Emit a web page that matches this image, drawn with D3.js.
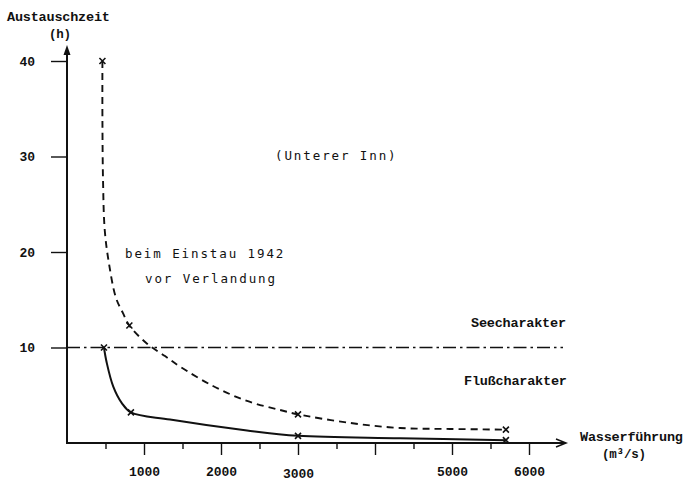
<!DOCTYPE html>
<html>
<head>
<meta charset="utf-8">
<script src="https://cdn.jsdelivr.net/npm/d3@7"></script>
<style>
  html, body { margin: 0; padding: 0; background: #fff; }
  svg { display: block; }
  .lbl { font-family: "Liberation Mono", "DejaVu Sans Mono", monospace; font-weight: bold; font-size: 13.5px; letter-spacing: -0.2px; fill: #111; }
  .sm { font-size: 12.5px; }
  .typ { font-family: "DejaVu Sans Mono", monospace; font-size: 12.5px; letter-spacing: 1.9px; fill: #111; }
  .tick text { font-family: "Liberation Mono", "DejaVu Sans Mono", monospace; font-weight: bold; font-size: 13px; fill: #111; }
</style>
</head>
<body>
<svg id="chart" width="686" height="482"></svg>
<script>
// Wasserführung (m³/s) and Austauschzeit (h) along each curve
const einstauFlow  = [460, 460, 468, 490, 545, 636, 727, 810, 1040, 1273, 1468, 1896, 2338, 2766, 3000, 3675, 4325, 4974, 5700];
const einstauHours = [40, 34, 27.5, 22.3, 18.8, 15.2, 13.6, 12.3, 10.4, 9.1, 8.0, 5.97, 4.4, 3.46, 3.0, 2.1, 1.57, 1.47, 1.4];
const einstauMarkFlow  = [460, 810, 3000, 5700];
const einstauMarkHours = [40, 12.3, 3.0, 1.4];

const heuteFlow  = [480, 516, 601, 710, 830, 1338, 2338, 3000, 4325, 5700];
const heuteHours = [10, 8.4, 5.9, 4.2, 3.2, 2.46, 1.31, 0.75, 0.5, 0.3];
const heuteMarkFlow  = [480, 830, 3000, 5700];
const heuteMarkHours = [10, 3.2, 0.75, 0.3];

// Grenze zwischen See- und Flußcharakter
const grenzeHours = 10;

const flowMajorTicks = [1000, 2000, 3000, 4000, 5000, 6000];
const flowMinorTicks = [500, 1500, 2500, 3500, 4500, 5500];
const flowTickLabels = ["1000", "2000", "3000", "", "5000", "6000"];
const hourTicks = [10, 20, 30, 40];

const svg = d3.select("#chart");

const x = d3.scaleLinear().domain([0, 6000]).range([67, 529]);
const y = d3.scaleLinear().domain([0, 40]).range([443, 61]);
const x0 = x(0), y0 = y(0);
const xEnd = 566, yTop = 45;

// x axis: long ticks at thousands, short ticks in between
const gxMinor = svg.append("g").attr("transform", `translate(0,${y0})`)
  .call(d3.axisBottom(x).tickValues(flowMinorTicks).tickSize(6).tickSizeOuter(0).tickFormat(""));
const gxMajor = svg.append("g").attr("transform", `translate(0,${y0})`)
  .call(d3.axisBottom(x).tickValues(flowMajorTicks).tickSize(12).tickSizeOuter(0)
    .tickFormat((d, i) => flowTickLabels[i]).tickPadding(11));
[gxMinor, gxMajor].forEach(g => {
  g.select(".domain").remove();
  g.selectAll(".tick line").attr("stroke", "#111").attr("stroke-width", 1.4);
});
gxMajor.selectAll(".tick text")
  .attr("dy", (d) => d === 3000 ? "0.9em" : "0.75em");

// y axis
const gy = svg.append("g").attr("transform", `translate(${x0},0)`)
  .call(d3.axisLeft(y).tickValues(hourTicks).tickSize(16).tickSizeOuter(0).tickPadding(16));
gy.select(".domain").remove();
gy.selectAll(".tick line").attr("stroke", "#111").attr("stroke-width", 1.4);

// axis lines with arrowheads
svg.append("line").attr("x1", x0).attr("y1", y0 + 1).attr("x2", x0).attr("y2", yTop + 4)
  .attr("stroke", "#111").attr("stroke-width", 2);
svg.append("path")
  .attr("d", `M${x0},${yTop} L${x0 - 3.5},${yTop + 10} L${x0 + 3.5},${yTop + 10} Z`)
  .attr("fill", "#111");
svg.append("line").attr("x1", x0).attr("y1", y0).attr("x2", xEnd - 1).attr("y2", y0)
  .attr("stroke", "#111").attr("stroke-width", 2);
svg.append("path")
  .attr("d", `M${xEnd - 10},${y0 - 4} L${xEnd},${y0} L${xEnd - 10},${y0 + 4}`)
  .attr("fill", "none").attr("stroke", "#111").attr("stroke-width", 1.5);

// boundary line at 10 h
svg.append("line")
  .attr("x1", x0).attr("x2", 563).attr("y1", y(grenzeHours)).attr("y2", y(grenzeHours))
  .attr("stroke", "#111").attr("stroke-width", 1.7).attr("stroke-dasharray", "13,4,2.5,4");

const line = d3.line().x(d => x(d[0])).y(d => y(d[1])).curve(d3.curveCatmullRom.alpha(0.5));

// curve at impoundment 1942 (dashed)
svg.append("path")
  .datum(d3.zip(einstauFlow, einstauHours))
  .attr("d", line).attr("fill", "none").attr("stroke", "#111")
  .attr("stroke-width", 1.9).attr("stroke-dasharray", "7,5");

// current curve (solid)
svg.append("path")
  .datum(d3.zip(heuteFlow, heuteHours))
  .attr("d", line).attr("fill", "none").attr("stroke", "#111").attr("stroke-width", 2);

// x markers
function crosses(flows, hours) {
  const pts = d3.zip(flows, hours);
  svg.append("g").selectAll("path").data(pts).join("path")
    .attr("d", d => {
      const cx = x(d[0]), cy = y(d[1]), s = 3;
      return `M${cx - s},${cy - s}L${cx + s},${cy + s}M${cx - s},${cy + s}L${cx + s},${cy - s}`;
    })
    .attr("stroke", "#111").attr("stroke-width", 1.6);
}
crosses(einstauMarkFlow, einstauMarkHours);
crosses(heuteMarkFlow, heuteMarkHours);

// axis titles
svg.append("text").attr("class", "lbl").attr("x", 7).attr("y", 21).text("Austauschzeit");
svg.append("text").attr("class", "lbl sm").attr("x", 49).attr("y", 38).text("(h)");
svg.append("text").attr("class", "lbl").attr("x", 580).attr("y", 441).text("Wasserführung");
svg.append("text").attr("class", "lbl sm").attr("x", 602).attr("y", 458).text("(m³/s)");

// annotations
svg.append("text").attr("class", "typ").attr("x", 275).attr("y", 160).text("(Unterer Inn)");
svg.append("text").attr("class", "typ").attr("x", 125).attr("y", 258).text("beim Einstau 1942");
svg.append("text").attr("class", "typ").attr("x", 145).attr("y", 283).text("vor Verlandung");
svg.append("text").attr("class", "lbl").attr("x", 471).attr("y", 327).text("Seecharakter");
svg.append("text").attr("class", "lbl").attr("x", 464).attr("y", 385).text("Flußcharakter");
</script>
</body>
</html>
